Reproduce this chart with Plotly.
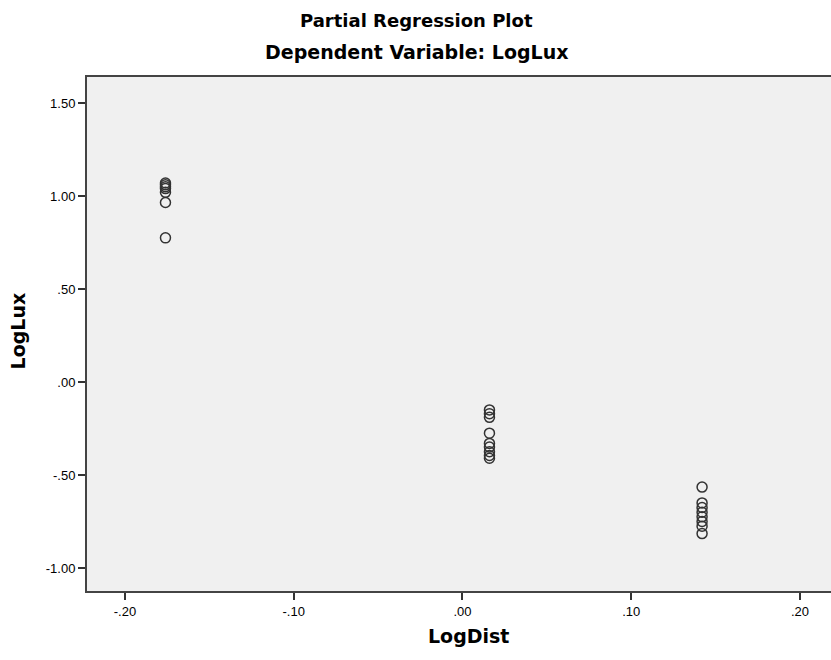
import plotly.graph_objects as go

# Data
x_group1 = [-0.176] * 7
y_group1 = [1.070, 1.060, 1.050, 1.040, 1.020, 0.965, 0.775]

x_group2 = [0.016] * 9
y_group2 = [-0.150, -0.170, -0.190, -0.275, -0.330, -0.350, -0.375, -0.395, -0.410]

x_group3 = [0.142] * 8
y_group3 = [-0.565, -0.650, -0.675, -0.700, -0.725, -0.750, -0.775, -0.815]

x_tickvals = [-0.20, -0.10, 0.00, 0.10, 0.20]
x_ticktext = ["-.20", "-.10", ".00", ".10", ".20"]
y_tickvals = [-1.00, -0.50, 0.00, 0.50, 1.00, 1.50]
y_ticktext = ["-1.00", "-.50", ".00", ".50", "1.00", "1.50"]

xs = x_group1 + x_group2 + x_group3
ys = y_group1 + y_group2 + y_group3

TICKFONT = "Liberation Sans, Arial, sans-serif"
TITLEFONT = "DejaVu Sans, Verdana, sans-serif"

fig = go.Figure()
fig.add_trace(go.Scatter(
    x=xs, y=ys, mode="markers",
    marker=dict(symbol="circle-open", size=10, color="#333333",
                line=dict(width=1.5, color="#333333")),
    hoverinfo="x+y", showlegend=False,
))

fig.update_layout(
    width=831, height=660,
    margin=dict(l=87, r=0, t=77, b=69),
    paper_bgcolor="white",
    plot_bgcolor="#f0f0f0",
    font=dict(family=TICKFONT, size=13, color="#000000"),
)

fig.add_annotation(text="<b>Partial Regression Plot</b>", xref="paper", yref="paper",
                   x=0.443, y=1.0, yshift=57, showarrow=False,
                   font=dict(size=18, family=TITLEFONT), xanchor="center", yanchor="middle")
fig.add_annotation(text="<b>Dependent Variable: LogLux</b>", xref="paper", yref="paper",
                   x=0.443, y=1.0, yshift=25, showarrow=False,
                   font=dict(size=19, family=TITLEFONT), xanchor="center", yanchor="middle")
fig.add_annotation(text="<b>LogDist</b>", xref="paper", yref="paper",
                   x=0.513, y=0.0, yshift=-45, showarrow=False,
                   font=dict(size=19, family=TITLEFONT), xanchor="center", yanchor="middle")
fig.add_annotation(text="<b>LogLux</b>", xref="paper", yref="paper",
                   x=-0.0927, y=0.505, showarrow=False, textangle=-90,
                   font=dict(size=19, family=TITLEFONT), xanchor="center", yanchor="middle")

fig.update_xaxes(
    range=[-0.2225, 0.2184],
    tickvals=x_tickvals, ticktext=x_ticktext,
    ticks="outside", ticklen=7, tickwidth=1.5, tickcolor="#333333",
    showgrid=False, zeroline=False,
    showline=True, linewidth=2, linecolor="#444444", mirror=True,
    tickfont=dict(size=13, family=TICKFONT, color="#000000"),
)
fig.update_yaxes(
    range=[-1.1237, 1.640],
    tickvals=y_tickvals, ticktext=y_ticktext,
    ticks="outside", ticklen=7, tickwidth=1.5, tickcolor="#333333",
    showgrid=False, zeroline=False,
    showline=True, linewidth=2, linecolor="#444444", mirror=False,
    tickfont=dict(size=13, family=TICKFONT, color="#000000"),
)

fig.write_html(
    "out.html",
    config={"displayModeBar": False},
    post_script="document.body.style.margin='0';document.documentElement.style.overflow='hidden';",
)
